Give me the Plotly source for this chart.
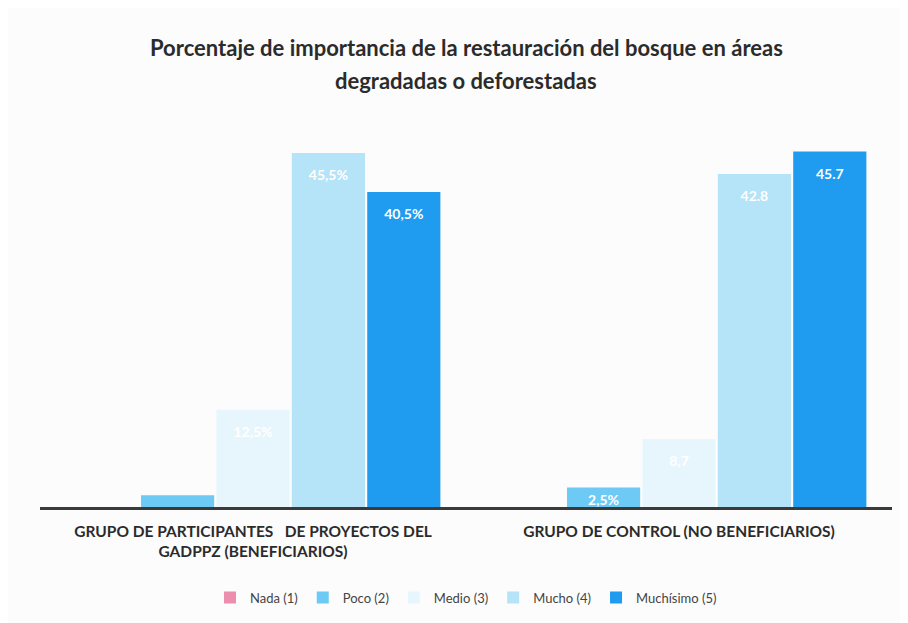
import plotly.graph_objects as pgo

categories = [
    'GRUPO DE PARTICIPANTES &nbsp; DE PROYECTOS DEL<br>GADPPZ (BENEFICIARIOS)',
    'GRUPO DE CONTROL (NO BENEFICIARIOS)',
]
series_names = ['Nada (1)', 'Poco (2)', 'Medio (3)', 'Mucho (4)', 'Muchísimo (5)']
nada = [0, 0]
poco = [1.5, 2.5]
medio = [12.5, 8.7]
mucho = [45.5, 42.8]
muchisimo = [40.5, 45.7]
labels = [
    ['', ''],
    ['', '2,5%'],
    ['12,5%', '8,7'],
    ['45,5%', '42.8'],
    ['40,5%', '45.7'],
]
colors = ['#ec8fae', '#6ccaf5', '#e7f6fd', '#b5e3f8', '#1f9cf0']

title_lines = [
    'Porcentaje de importancia de la restauración del bosque en áreas',
    'degradadas o deforestadas',
]

fig = pgo.Figure()
for name, vals, txt, col in zip(series_names, [nada, poco, medio, mucho, muchisimo], labels, colors):
    # tall bars get a small empty first line so the label sits lower, as in the original
    spacer = '<span style="font-size:6px">&nbsp;</span><br>'
    shown = [(spacer + t) if (t and v > 5) else t for t, v in zip(txt, vals)]
    fig.add_trace(pgo.Bar(
        name=name,
        x=categories,
        y=vals,
        text=shown,
        textposition='inside',
        insidetextanchor='end',
        constraintext='none',
        textfont={'color': 'white', 'size': 14, 'family': 'Lato', 'weight': 'bold'},
        marker={'color': col, 'line': {'width': 0}},
        cliponaxis=False,
    ))

# two title lines placed separately to get the wider line spacing
for line, ypos in zip(title_lines, [1.18, 1.097]):
    fig.add_annotation(
        text=line,
        xref='paper', yref='paper',
        x=0.5, y=ypos,
        xanchor='center', yanchor='middle',
        showarrow=False,
        font={'size': 22, 'color': '#2b2b2b', 'family': 'Lato', 'weight': 'bold'},
    )

fig.update_layout(
    width=908,
    height=623,
    margin={'l': 32, 'r': 24, 't': 110, 'b': 124},
    paper_bgcolor='#fcfcfc',
    plot_bgcolor='#fcfcfc',
    font={'family': 'Lato', 'color': '#333333'},
    barmode='group',
    bargap=0.115,
    bargroupgap=0.03,
    showlegend=True,
    legend={
        'orientation': 'h',
        'x': 0.5,
        'xanchor': 'center',
        'y': -0.233,
        'yanchor': 'middle',
        'font': {'size': 13, 'color': '#444444'},
        'itemwidth': 30,
        'bgcolor': 'rgba(0,0,0,0)',
    },
)
fig.update_xaxes(
    showline=True,
    linecolor='#3a3a3a',
    linewidth=3,
    ticks='',
    ticklabelstandoff=8,
    tickfont={'size': 15.5, 'color': '#2b2b2b', 'family': 'Lato', 'weight': 'bold'},
)
fig.update_yaxes(
    range=[0, 50],
    visible=False,
)

fig.write_html('out.html')
